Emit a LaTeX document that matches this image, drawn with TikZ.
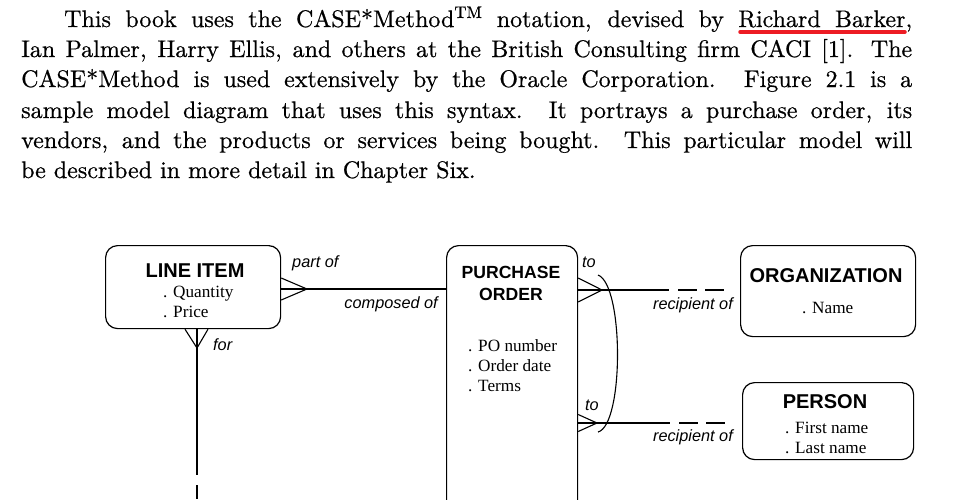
\documentclass[tikz,border=0pt]{standalone}
\usepackage{fontspec}
\newfontfamily\bookfont{lmroman10-regular.otf}[FakeBold=0.6]
\newfontfamily\entityfont{Liberation Sans}
\newfontfamily\attrfont{Liberation Serif}
\usetikzlibrary{positioning}
\usetikzlibrary{calc}
\definecolor{markred}{RGB}{237,28,36}
\tikzset{
    % Lines of the page text above the figure
    book line/.style={font=\bookfont\fontsize{24}{30}\selectfont,
        inner sep=0, anchor=base west},
%
    % Rounded entity boxes and their texts
    entity box/.style={draw, line width=1.2pt, rounded corners=12pt,
        anchor=north west, inner sep=0},
    entity title/.style={font=\entityfont\bfseries\fontsize{20}{22}\selectfont,
        inner sep=0, anchor=base},
    attribute list/.style={font=\attrfont\fontsize{17.2}{20}\selectfont,
        inner sep=0, anchor=base west, align=left},
%
    % Relationship lines and their names
    rel line/.style={line width=1.1pt},
    rel name/.style={font=\entityfont\itshape\fontsize{16.3}{18}\selectfont,
        inner sep=0},
    optional end/.style={rel line,
        dash pattern=on 19pt off 8pt on 19pt off 29pt, dash phase=66pt},
%
    % Hand marked underline
    underline mark/.style={draw=markred, line width=3.5pt, line cap=round}}

\begin{document}
\begin{tikzpicture}

\useasboundingbox (0,0) rectangle (953pt,-499pt);
\clip (0,0) rectangle (953pt,-499pt);

% Page text

\node [book line] (line1) at (64pt,-27pt)
    {\makebox[848pt][s]{This book uses the CASE*Method\textsuperscript{TM} notation, devised by Richard Barker,}};
\node [book line] (line2) at (21pt,-57pt)
    {\makebox[891pt][s]{Ian Palmer, Harry Ellis, and others at the British Consulting firm CACI [1].  The}};
\node [book line] (line3) at (21pt,-87pt)
    {\makebox[891pt][s]{CASE*Method is used extensively by the Oracle Corporation.  Figure 2.1 is a}};
\node [book line] (line4) at (21pt,-118pt)
    {\makebox[891pt][s]{sample model diagram that uses this syntax.  It portrays a purchase order, its}};
\node [book line] (line5) at (21pt,-148pt)
    {\makebox[891pt][s]{vendors, and the products or services being bought.  This particular model will}};
\node [book line] (line6) at (21pt,-178pt)
    {be described in more detail in Chapter Six.};

\draw [underline mark] (740pt,-32pt) -- (905pt,-32pt);

% Entities (a multi-line node sits on the baseline of its last line)

\node [entity box, minimum width=175pt, minimum height=83pt]
    (line item) at (105pt,-245pt) {};
\node [entity title] (line item title) at (195pt,-277pt) {LINE ITEM};
\node [attribute list] (line item attrs) at (163pt,-317pt)
    {. Quantity\\. Price};

\node [entity box, minimum width=131pt, minimum height=300pt]
    (order) at (446pt,-245pt) {};
\node [entity title, font=\entityfont\bfseries\fontsize{17.6}{22}\selectfont,
    align=center] (order title) at (511pt,-300pt) {PURCHASE\\ORDER};
\node [attribute list] (order attrs) at (468pt,-391pt)
    {. PO number\\. Order date\\. Terms};

\node [entity box, minimum width=175pt, minimum height=91pt]
    (organization) at (740pt,-245pt) {};
\node [entity title] (organization title) at (826pt,-282pt) {ORGANIZATION};
\node [attribute list] (organization attrs) at (802pt,-313pt) {. Name};

\node [entity box, minimum width=171pt, minimum height=77pt]
    (person) at (742pt,-382pt) {};
\node [entity title] (person title) at (825pt,-408pt) {PERSON};
\node [attribute list] (person attrs) at (785pt,-453pt)
    {. First name\\. Last name};

% Relationships

\coordinate (part foot) at (307pt,-289pt);
\draw [rel line] (line item.east |- part foot) -- (order.west |- part foot);
\draw [rel line] ($(line item.east |- part foot)+(0,11pt)$) -- (part foot)
    -- ($(line item.east |- part foot)-(0,11pt)$);
\node [rel name, anchor=base west] (part of) at (292pt,-267pt) {part of};
\node [rel name, anchor=base east] (composed of) at (438pt,-308pt) {composed of};

\coordinate (for foot) at (197pt,-348pt);
\coordinate (for end) at (197pt,-499pt);
\draw [rel line, dash pattern=on 146pt off 10pt on 40pt]
    (line item.south -| for foot) -- (for end);
\draw [rel line] ($(line item.south -| for foot)-(12pt,0)$) -- (for foot)
    -- ($(line item.south -| for foot)+(11pt,0)$);
\node [rel name, anchor=base west] (for) at (213pt,-350pt) {for};

\coordinate (org foot) at (602pt,-290pt);
\coordinate (org half) at (669pt,-290pt);
\draw [rel line] (order.east |- org foot) -- (org half);
\draw [optional end] (org half) -- (organization.west |- org half);
\draw [rel line] ($(order.east |- org foot)+(0,12pt)$) -- (org foot)
    -- ($(order.east |- org foot)-(0,12pt)$);
\node [rel name, anchor=base west] (org to) at (582pt,-267pt) {to};
\node [rel name, anchor=base east] (org recipient) at (733pt,-309pt) {recipient of};

\coordinate (person foot) at (597pt,-423pt);
\coordinate (person half) at (670pt,-423pt);
\draw [rel line] (order.east |- person foot) -- (person half);
\draw [optional end] (person half) -- (person.west |- person half);
\draw [rel line] ($(order.east |- person foot)+(0,8.5pt)$) -- (person foot)
    -- ($(order.east |- person foot)-(0,8.5pt)$);
\node [rel name, anchor=base west] (person to) at (585pt,-410pt) {to};
\node [rel name, anchor=base east] (person recipient) at (733pt,-441pt) {recipient of};

% Exclusive arc across both "to" ends
\coordinate (arc top) at (598pt,-275pt);
\coordinate (arc bottom) at (598pt,-432pt);
\draw [rel line] (arc top) .. controls (624pt,-285pt) and (624pt,-425pt) .. (arc bottom);

\end{tikzpicture}
\end{document}
